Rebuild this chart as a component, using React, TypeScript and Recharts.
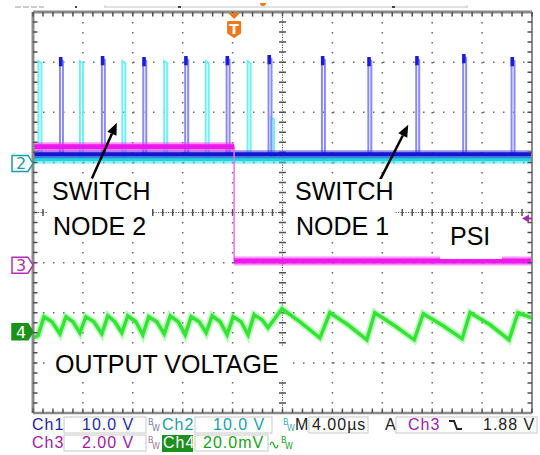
import React from 'react'
import {
  LineChart,
  Line,
  XAxis,
  YAxis,
  CartesianGrid,
  ReferenceLine,
  ReferenceDot
} from 'recharts'

// scope screen: 10 x 8 divisions, values below are in divisions
const xGridTicks = [1, 2, 3, 4, 6, 7, 8, 9]
const yGridTicks = [1, 2, 3, 5, 6, 7]
const MINOR_PER_DIV = 5

// Ch1 - switch node 1
const ch1PulseStarts = [0.54, 1.38, 2.21, 3.05, 3.88, 4.72, 5.79, 6.72, 7.68, 8.62, 9.59]
const ch1PulseTops = [7.06, 7.08, 7.06, 7.08, 7.08, 7.1, 7.08, 7.06, 7.08, 7.12, 7.06]
const ch1Base = 5.16

// Ch2 - switch node 2 (stops after PSI goes low, last one partial)
const ch2PulseStarts = [0.11, 0.94, 1.79, 2.63, 3.46, 4.3, 4.77]
const ch2PulseTops = [7.02, 7.02, 7.02, 7.02, 7.02, 7.02, 5.9]
const ch2Base = 5.06

// Ch3 - PSI
const ch3Times = [0, 4.03, 4.03, 10]
const ch3Levels = [5.31, 5.31, 3.03, 3.03]

// Ch4 - output voltage ripple
const ch4Times = [0, 0.1, 0.22, 0.38, 0.54, 0.66, 0.8, 0.94, 1.06, 1.22, 1.38, 1.5, 1.64, 1.78, 1.9, 2.06, 2.2, 2.32, 2.48, 2.63, 2.75, 2.91, 3.05, 3.17, 3.33, 3.47, 3.59, 3.75, 3.89, 4.01, 4.17, 4.31, 4.43, 4.59, 4.71, 4.99, 5.35, 5.75, 5.95, 6.31, 6.69, 6.85, 7.25, 7.64, 7.82, 8.22, 8.6, 8.76, 9.16, 9.54, 9.72, 10]
const ch4Levels = [1.5, 1.54, 1.92, 1.82, 1.58, 1.92, 1.82, 1.6, 1.92, 1.82, 1.58, 1.94, 1.82, 1.6, 1.94, 1.82, 1.56, 1.92, 1.82, 1.58, 1.94, 1.82, 1.56, 1.92, 1.82, 1.6, 1.94, 1.82, 1.56, 1.92, 1.82, 1.56, 1.96, 1.86, 1.7, 2.08, 1.82, 1.5, 2.0, 1.76, 1.46, 2.0, 1.74, 1.46, 1.98, 1.74, 1.48, 2.0, 1.76, 1.46, 2.0, 1.9]

// channel ground markers + trigger
const ch2Ground = 4.98
const ch3Ground = 2.95
const ch4Ground = 1.62
const triggerTime = 4.03
const triggerLevel = 3.88

const PULSE_W = 0.06

const pulseTrain = (starts: number[], tops: number[], base: number) => {
  const pts: { x: number; y: number | null }[] = [{ x: 0, y: base }]
  starts.forEach((s, i) => {
    pts.push({ x: s, y: base }, { x: s, y: tops[i] }, { x: s + PULSE_W, y: tops[i] - 0.04 }, { x: s + PULSE_W, y: base })
  })
  pts.push({ x: 10, y: base })
  return pts
}

const ch1Pulses = pulseTrain(ch1PulseStarts, ch1PulseTops, ch1Base)
const ch2Pulses = pulseTrain(ch2PulseStarts, ch2PulseTops, ch2Base)
const ch1Caps = ch1PulseStarts.flatMap((s, i) => [
  { x: s + 0.015, y: ch1PulseTops[i] + 0.04 },
  { x: s + 0.015, y: ch1PulseTops[i] - 0.14 },
  { x: s + 0.03, y: null }
])
const ch1Line = [{ x: 0, y: ch1Base }, { x: 10, y: ch1Base }]
const ch2Line = [{ x: 0, y: ch2Base }, { x: 10, y: ch2Base }]
const ch3Edge = ch3Times.map((t, i) => ({ x: t, y: ch3Levels[i] }))
const ch3Band = [ch3Edge[0], ch3Edge[1], { x: ch3Times[1], y: null }, ch3Edge[2], ch3Edge[3]]
const ch4Data = ch4Times.map((t, i) => ({ x: t, y: ch4Levels[i] }))

const GRAY = '#8a8a8a'
const DOT = '#666666'
const TICK = '#505050'

// line with little perpendicular ticks every minor division
const tickedLine = (divs: number, before: number, after: number, width: number, dotted: boolean) => (p: any) => {
  const x1 = Number(p.x1)
  const y1 = Number(p.y1)
  const x2 = Number(p.x2)
  const y2 = Number(p.y2)
  const n = divs * MINOR_PER_DIV
  const dx = x2 - x1
  const dy = y2 - y1
  const len = Math.hypot(dx, dy) || 1
  const ux = Math.abs(dy) / len
  const uy = Math.abs(dx) / len
  let d = ''
  for (let i = 0; i <= n; i++) {
    const x = x1 + (dx * i) / n
    const y = y1 + (dy * i) / n
    d += `M${x - ux * before},${y - uy * before}L${x + ux * after},${y + uy * after}`
  }
  return (
    <g>
      <line x1={x1} y1={y1} x2={x2} y2={y2} stroke={dotted ? TICK : GRAY} strokeWidth={width} strokeDasharray={dotted ? '1.2 1.3' : undefined} />
      <path d={d} stroke={TICK} strokeWidth={1.5} fill="none" />
    </g>
  )
}

const ChannelTag = ({ cx, cy, label, color, filled }: any) => (
  <g>
    <path
      d={`M${cx - 21},${cy - 8} H${cx - 5} L${cx},${cy} L${cx - 5},${cy + 8} H${cx - 21} Z`}
      fill={filled ? color : '#fff'}
      stroke={color}
      strokeWidth={1.5}
    />
    <text x={cx - 12} y={cy + 6} textAnchor="middle" fontSize={16} fontFamily="DejaVu Sans" fill={filled ? '#fff' : color}>
      {label}
    </text>
  </g>
)

const TriggerMark = ({ cx, cy }: any) => (
  <g>
    <path d={`M${cx - 6},${cy + 1} H${cx + 6} L${cx},${cy + 7} Z`} fill="#f07818" />
    <path
      d={`M${cx - 6},${cy + 10} H${cx + 6} V${cy + 21} L${cx},${cy + 25} L${cx - 6},${cy + 21} Z`}
      fill="#f07818"
      stroke="#f07818"
      strokeLinejoin="round"
      strokeWidth={2}
    />
    <text x={cx} y={cy + 22} textAnchor="middle" fontSize={14} fontWeight="bold" fontFamily="DejaVu Sans" fill="#fff">
      T
    </text>
  </g>
)

const LevelMark = ({ cx, cy }: any) => (
  <g>
    <path d={`M${cx - 10},${cy} L${cx - 3},${cy - 4} L${cx - 3},${cy + 4} Z`} fill="#a030a0" />
    <line x1={cx - 4} y1={cy} x2={cx} y2={cy} stroke="#a030a0" strokeWidth={2} />
  </g>
)

const Arrow = ({ x1, y1, x2, y2 }: any) => {
  const a = Math.atan2(y2 - y1, x2 - x1)
  const len = 12
  const hw = 5
  const bx = x2 - len * Math.cos(a)
  const by = y2 - len * Math.sin(a)
  const nx = -Math.sin(a) * hw
  const ny = Math.cos(a) * hw
  return (
    <g>
      <line x1={x1} y1={y1} x2={bx} y2={by} stroke="#000" strokeWidth={2.5} />
      <path d={`M${x2},${y2} L${bx + nx},${by + ny} L${bx - nx},${by - ny} Z`} fill="#000" />
    </g>
  )
}

const BW = ({ x, y, color }: any) => (
  <g fill={color} fontSize={8} fontFamily="DejaVu Sans">
    <text x={x} y={y - 5}>B</text>
    <text x={x + 4} y={y + 1}>W</text>
  </g>
)

const labelFont = { fontFamily: 'Liberation Sans, Arial, sans-serif', fontSize: 25, fill: '#000' }
const barFont = { fontFamily: 'Liberation Sans, Arial, sans-serif', fontSize: 16, letterSpacing: 1 }

export default function App() {
  return (
    <div style={{ position: 'absolute', left: 0, top: 0, width: 540, height: 455, background: '#fff' }}>
      <LineChart width={540} height={455} margin={{ top: 12, right: 8, bottom: 42, left: 33 }}>
        <CartesianGrid stroke={DOT} strokeWidth={1.5} strokeDasharray="1.5 8.5" />
        <XAxis dataKey="x" type="number" domain={[0, 10]} ticks={xGridTicks} allowDataOverflow hide />
        <YAxis type="number" domain={[0, 8]} ticks={yGridTicks} allowDataOverflow hide />

        {/* center cross */}
        <ReferenceLine segment={[{ x: 0, y: 4 }, { x: 10, y: 4 }]} ifOverflow="visible" shape={tickedLine(10, 3.5, 3.5, 1, true)} />
        <ReferenceLine segment={[{ x: 5, y: 8 }, { x: 5, y: 0 }]} ifOverflow="visible" shape={tickedLine(8, 3.5, 3.5, 1, true)} />

        <Line data={ch2Pulses} dataKey="y" type="linear" stroke="#6ef0f2" strokeWidth={2} dot={false} activeDot={false} isAnimationActive={false} />
        <Line data={ch1Pulses} dataKey="y" type="linear" stroke="#8a8af4" strokeWidth={2} dot={false} activeDot={false} isAnimationActive={false} />
        <Line data={ch2Line} dataKey="y" stroke="#38dfe6" strokeOpacity={0.5} strokeWidth={9} dot={false} activeDot={false} isAnimationActive={false} />
        <Line data={ch2Line} dataKey="y" stroke="#22d6de" strokeWidth={4} dot={false} activeDot={false} isAnimationActive={false} />
        <Line data={ch1Line} dataKey="y" stroke="#2a2ae0" strokeOpacity={0.5} strokeWidth={8} dot={false} activeDot={false} isAnimationActive={false} />
        <Line data={ch1Line} dataKey="y" stroke="#1414d2" strokeWidth={4} dot={false} activeDot={false} isAnimationActive={false} />
        <Line data={ch1Caps} dataKey="y" stroke="#1a1ae0" strokeWidth={3.5} dot={false} activeDot={false} isAnimationActive={false} />

        <Line data={ch3Edge} dataKey="y" type="linear" stroke="#f070f0" strokeWidth={1.5} dot={false} activeDot={false} isAnimationActive={false} />
        <Line data={ch3Band} dataKey="y" type="linear" stroke="#f040f0" strokeOpacity={0.55} strokeWidth={9} dot={false} activeDot={false} isAnimationActive={false} />
        <Line data={ch3Band} dataKey="y" type="linear" stroke="#ee18ee" strokeWidth={5} dot={false} activeDot={false} isAnimationActive={false} />

        <Line data={ch4Data} dataKey="y" type="linear" stroke="#5ef05e" strokeOpacity={0.4} strokeWidth={7} dot={false} activeDot={false} isAnimationActive={false} />
        <Line data={ch4Data} dataKey="y" type="linear" stroke="#34e434" strokeWidth={3.5} dot={false} activeDot={false} isAnimationActive={false} />

        {/* frame with minor ticks pointing inward */}
        <ReferenceLine segment={[{ x: 0, y: 8 }, { x: 0, y: 0 }]} ifOverflow="visible" shape={tickedLine(8, 0, 4.5, 3, false)} />
        <ReferenceLine segment={[{ x: 10, y: 8 }, { x: 10, y: 0 }]} ifOverflow="visible" shape={tickedLine(8, 4.5, 0, 2, false)} />
        <ReferenceLine segment={[{ x: 0, y: 8 }, { x: 10, y: 8 }]} ifOverflow="visible" shape={tickedLine(10, 0, 4.5, 3, false)} />
        <ReferenceLine segment={[{ x: 0, y: 0 }, { x: 10, y: 0 }]} ifOverflow="visible" shape={tickedLine(10, 4.5, 0, 2.5, false)} />

        <ReferenceLine segment={[{ x: 1.18, y: 4.68 }, { x: 1.68, y: 5.79 }]} shape={(p: any) => <Arrow {...p} />} ifOverflow="visible" />
        <ReferenceLine segment={[{ x: 6.95, y: 4.64 }, { x: 7.52, y: 5.75 }]} shape={(p: any) => <Arrow {...p} />} ifOverflow="visible" />

        <ReferenceDot x={0} y={ch2Ground} ifOverflow="visible" shape={(p: any) => <ChannelTag {...p} label="2" color="#1f9aa5" />} />
        <ReferenceDot x={0} y={ch3Ground} ifOverflow="visible" shape={(p: any) => <ChannelTag {...p} label="3" color="#b030b0" />} />
        <ReferenceDot x={0} y={ch4Ground} ifOverflow="visible" shape={(p: any) => <ChannelTag {...p} label="4" color="#1a921a" filled />} />
        <ReferenceDot x={triggerTime} y={8} ifOverflow="visible" shape={(p: any) => <TriggerMark {...p} />} />
        <ReferenceDot x={10} y={triggerLevel} ifOverflow="visible" shape={(p: any) => <LevelMark {...p} />} />
      </LineChart>

      <svg width={540} height={455} style={{ position: 'absolute', left: 0, top: 0, pointerEvents: 'none' }}>
        {/* record view strip */}
        <line x1={15} y1={7} x2={44} y2={7} stroke="#999" strokeDasharray="6 2" />
        <line x1={105} y1={7} x2={467} y2={7} stroke="#c4c4c4" />
        <line x1={105} y1={5} x2={105} y2={8} stroke="#c4c4c4" />
        <line x1={467} y1={5} x2={467} y2={8} stroke="#c4c4c4" />
        <rect x={75} y={6} width={2} height={2} fill="#444" />
        <rect x={178} y={6} width={3} height={2} fill="#444" />
        <rect x={392} y={6} width={3} height={2} fill="#444" />
        <path d="M260,3 A3,3 0 0 0 266,3 Z" fill="#f07818" />

        {/* annotations */}
        <rect x={48} y={179} width={104} height={63} fill="#fff" />
        <text x={52} y={200} {...labelFont}>SWITCH</text>
        <text x={53} y={235} {...labelFont}>NODE 2</text>
        <rect x={286} y={179} width={108} height={63} fill="#fff" />
        <text x={295} y={200} {...labelFont}>SWITCH</text>
        <text x={296} y={235} {...labelFont}>NODE 1</text>
        <rect x={440} y={219} width={62} height={40} fill="#fff" />
        <text x={450} y={245} {...labelFont}>PSI</text>
        <rect x={48} y={346} width={244} height={34} fill="#fff" />
        <text x={55} y={373} {...labelFont}>OUTPUT VOLTAGE</text>

        {/* status bar */}
        <g {...barFont}>
          <text x={32} y={430} fill="#23239a">Ch1</text>
          <rect x={64} y={417} width={82} height={16} fill="#fff" stroke="#c8c8c8" />
          <text x={82} y={430} fill="#2a2aa8">10.0 V</text>
          <text x={162} y={430} fill="#1f9aa5">Ch2</text>
          <rect x={195} y={417} width={77} height={16} fill="#fff" stroke="#c8c8c8" />
          <text x={213} y={430} fill="#20a0a8">10.0 V</text>
          <text x={295} y={430} fill="#222">M</text>
          <rect x={309} y={417} width={59} height={16} fill="#fff" stroke="#c8c8c8" />
          <text x={312} y={430} fill="#222">4.00µs</text>
          <text x={385} y={430} fill="#222">A</text>
          <rect x={396} y={417} width={141} height={16} fill="#fff" stroke="#c8c8c8" />
          <text x={408} y={430} fill="#a020a8">Ch3</text>
          <path d="M449,421 H454 L457,429 H462" fill="none" stroke="#222" strokeWidth={2} />
          <text x={483} y={430} fill="#222">1.88 V</text>

          <text x={32} y={448} fill="#a020a0">Ch3</text>
          <rect x={64} y={435} width={82} height={16} fill="#fff" stroke="#c8c8c8" />
          <text x={82} y={448} fill="#a020a0">2.00 V</text>
          <rect x={162} y={435} width={31} height={17} fill="#1e8e1e" />
          <text x={163} y={448} fill="#fff">Ch4</text>
          <rect x={195} y={435} width={73} height={16} fill="#fff" stroke="#c8c8c8" />
          <text x={203} y={448} fill="#20a020">20.0mV</text>
          <path d="M270,445 q2,-6 4,0 t4,0" fill="none" stroke="#20a020" strokeWidth={1.2} />
        </g>
        <BW x={148} y={430} color="#7a7a9a" />
        <BW x={283} y={430} color="#40b0b0" />
        <BW x={148} y={448} color="#9a7a9a" />
        <BW x={281} y={448} color="#20a020" />
      </svg>
    </div>
  )
}
